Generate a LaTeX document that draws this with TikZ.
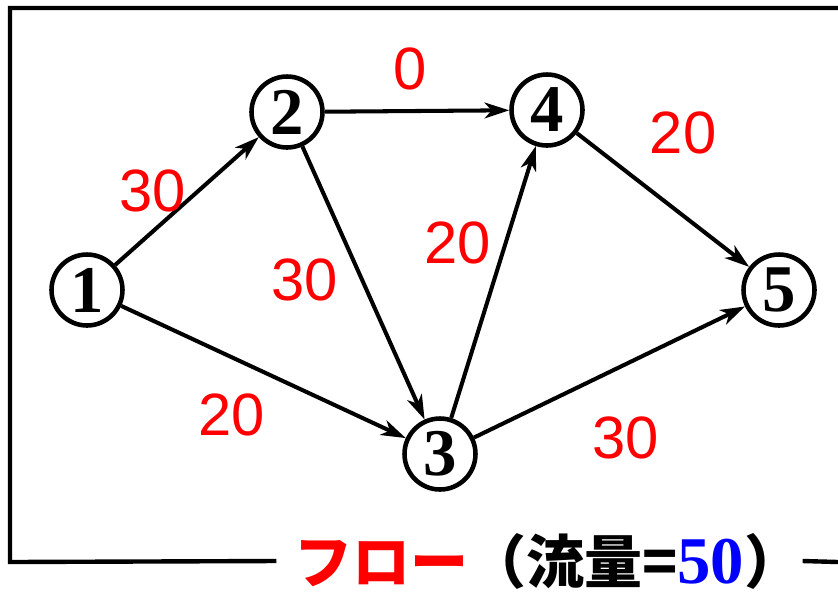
\documentclass[tikz,border=0pt]{standalone}
\usepackage{fontspec}
\setmainfont{Liberation Serif}
\newfontfamily\cjkfont{Noto Sans CJK JP}
\newfontfamily\labelfont{Liberation Sans}
\usetikzlibrary{arrows.meta,positioning}

\begin{document}
\begin{tikzpicture}[x=0.02cm,y=-0.02cm]
%% styles
\tikzstyle{vertex}=[circle,draw=black,line width=2.6pt,minimum size=1.42cm,inner sep=0pt,font=\fontsize{38}{38}\selectfont\bfseries]
\tikzstyle{weight}=[text=red,font=\labelfont\fontsize{34}{34}\selectfont,inner sep=0pt]
\tikzstyle{arc}=[-{Stealth[length=14pt,width=9pt,inset=4pt]},line width=2.3pt]
\tikzstyle{frame}=[line width=2.5pt]
\tikzstyle{caption}=[font=\cjkfont\bfseries\fontsize{33}{33}\selectfont,inner xsep=0pt,inner ysep=0pt,anchor=west]

\useasboundingbox (0,0) rectangle (838,593);

%% nodes
\foreach \name/\x/\y in {1/87/290,2/287/112,3/440/454,4/547/110,5/779/290}
\node[vertex] (v\name) at (\x,\y) {\name};

%% arcs
\foreach \from/\to in {1/2,1/3,2/4,2/3,3/4,3/5,4/5}
\draw[arc] (v\from) -- (v\to);

%% flow values
\foreach \val/\x/\y [count=\i] in {30/153/191,0/410/69,30/305/280,20/232/415,20/458/243,30/626/438,20/683/133}
\node[weight] (w\i) at (\x,\y) {\val};

%% frame
\coordinate (tl) at (10,8);
\coordinate (tr) at (838,8);
\coordinate (bl) at (10,562);
\coordinate (br) at (838,562);
\node[caption] (flow) at (294,561) {\textcolor{red}{フロー}（流量={\color{blue}\rmfamily\fontsize{38}{38}\selectfont 50}）};
\draw[frame] ([xshift=-10pt]flow.west) -- (bl) -- (tl) -- (tr);
\draw[frame] (flow.east) -- (br);
\end{tikzpicture}
\end{document}
